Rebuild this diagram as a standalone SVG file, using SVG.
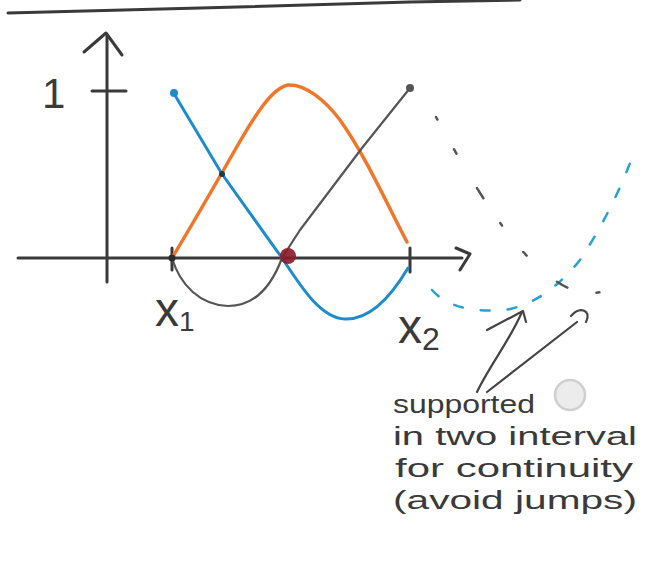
<svg xmlns="http://www.w3.org/2000/svg" width="654" height="574" viewBox="0 0 654 574">
<style>
.ink{fill:none;stroke:#3a3a3a;stroke-width:3;stroke-linecap:round;stroke-linejoin:round}
.thin{fill:none;stroke:#444;stroke-width:2.2;stroke-linecap:round;stroke-linejoin:round}
.blue{fill:none;stroke:#1d8ccc;stroke-width:3;stroke-linecap:round;stroke-linejoin:round}
.orange{fill:none;stroke:#f0762a;stroke-width:3.5;stroke-linecap:round;stroke-linejoin:round}
.gray{fill:none;stroke:#555;stroke-width:2.2;stroke-linecap:round;stroke-linejoin:round}
.lbl{font-family:"Liberation Sans",Arial,sans-serif;fill:#3a3a3a}
.note{font-family:"Liberation Sans",Arial,sans-serif;font-size:26px;fill:#3a3a3a}
</style>
<rect width="654" height="574" fill="#ffffff"/>
<!-- heading underline (cut off) -->
<path class="ink" d="M8,13 L200,8 L410,2 L520,0"/>
<!-- axes -->
<g id="axes">
  <path class="ink" d="M107,282 L107,36"/>
  <path class="ink" d="M84,52 L106,33 L122,55"/>
  <path class="ink" d="M18,258 L462,258"/>
  <path class="ink" d="M456,248 L470,254 L460,270"/>
  <path class="ink" d="M92,91 L126,91"/>
  <path class="ink" d="M172,248 L172,270"/>
  <path class="ink" d="M410,248 L410,272"/>
</g>
<text class="lbl" x="42" y="108" font-size="42" font-weight="300">1</text>
<text class="lbl" x="155" y="326" font-size="48">x<tspan font-size="28" dy="5">1</tspan></text>
<text class="lbl" x="398" y="343" font-size="48">x<tspan font-size="32" dy="7">2</tspan></text>
<!-- curves -->
<g id="curves">
  <path class="orange" d="M172,258 C195,220 215,185 235,150 C255,115 272,88 288,85 C305,84 325,100 340,120 C365,155 385,200 407,242"/>
  <path class="gray" d="M172,258 C180,285 200,305 228,306 C255,306 272,285 282,258 L300,230 L362,148 L410,88"/>
  <path class="blue" d="M173,92 L222,174 L282,258 C300,285 320,318 345,319 C370,320 392,295 408,268"/>
  <circle cx="174" cy="93" r="4" fill="#1d8ccc"/>
  <circle cx="410" cy="88" r="4" fill="#555"/>
  <circle cx="288" cy="256" r="8" fill="#8a1a2a" opacity="0.9"/>
  <circle cx="222" cy="174" r="3" fill="#1f3a3a"/>
  <circle cx="172" cy="258" r="3.5" fill="#2a2a2a"/>
</g>
<!-- dashed arcs -->
<g id="arcs">
  <path fill="none" stroke="#2aa0d0" stroke-width="2.5" stroke-linecap="round" stroke-dasharray="9 18" d="M432,290 C450,310 480,312 505,310 C535,305 560,285 580,260 C600,230 618,195 632,158"/>
  <path fill="none" stroke="#555" stroke-width="2.5" stroke-linecap="round" stroke-dasharray="3 34 5 40 12 30" d="M436,117 C465,170 505,240 540,268 C565,292 595,305 630,278"/>
</g>
<!-- pointer arrows -->
<g id="arrows">
  <path class="thin" d="M477,392 C490,365 510,340 522,312"/>
  <path class="thin" d="M487,330 L523,311 L526,322"/>
  <path class="thin" d="M487,392 L577,322"/>
  <path class="thin" d="M571,316 C580,306 592,310 586,322"/>
</g>
<circle cx="570" cy="395" r="15" fill="#ececec" stroke="#cfcfcf" stroke-width="2.5"/>
<g id="note">
  <text class="note" x="393" y="413" textLength="142" lengthAdjust="spacingAndGlyphs">supported</text>
  <text class="note" x="393" y="445" textLength="244" lengthAdjust="spacingAndGlyphs">in two interval</text>
  <text class="note" x="395" y="477" textLength="238" lengthAdjust="spacingAndGlyphs">for continuity</text>
  <text class="note" x="393" y="509" textLength="244" lengthAdjust="spacingAndGlyphs">(avoid jumps)</text>
</g>
</svg>
